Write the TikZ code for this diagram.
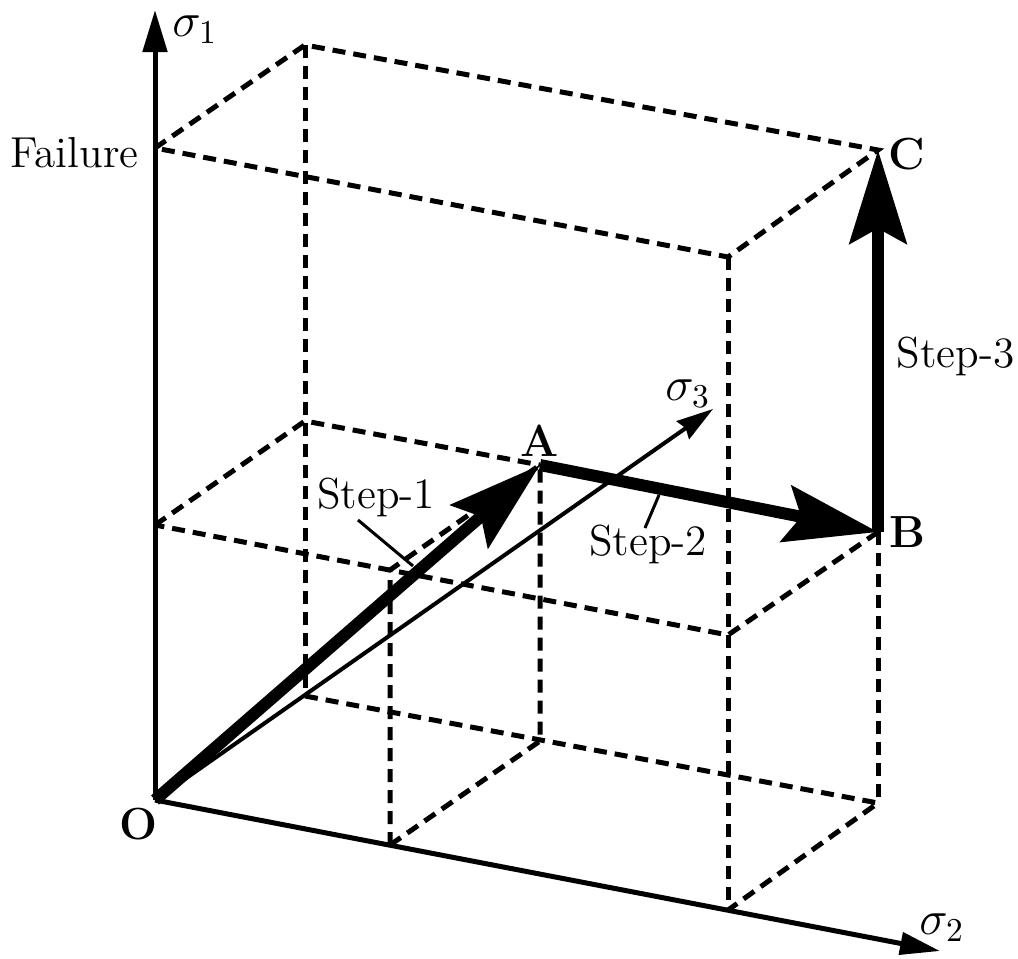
\documentclass[tikz,border=0pt]{standalone}
\usetikzlibrary{arrows.meta}
\begin{document}
\begin{tikzpicture}[x=0.3pt,y=-0.3pt,
  boxline/.style={line width=1.5pt,dash pattern=on 3.9pt off 2.4pt},
  axisline/.style={line width=1.5pt},
  stepline/.style={line width=3.6pt,-{Stealth[length=28pt,width=17pt,inset=4.5pt]}},
  pointer/.style={line width=0.9pt},
  lbl/.style={font=\fontsize{13}{15.6}\selectfont,inner sep=0pt},
  slbl/.style={font=\fontsize{14.4}{17}\selectfont,inner sep=0pt},
  blbl/.style={font=\fontsize{13.5}{16}\selectfont\bfseries,inner sep=0pt}]
\useasboundingbox (0,0) rectangle (1018,958);
% points
\coordinate (O)  at (155,800);
\coordinate (T1) at (155,148);
\coordinate (T2) at (305,45);
\coordinate (T3) at (878,150);
\coordinate (T4) at (728,257);
\coordinate (M1) at (155,525);
\coordinate (M2) at (305,421);
\coordinate (A)  at (540,465);
\coordinate (B)  at (878,532);
\coordinate (M4) at (728,635);
\coordinate (P2) at (305,696);
\coordinate (Q)  at (540,741);
\coordinate (R)  at (878,803);
\coordinate (F)  at (728,910);
\coordinate (S)  at (390,845);
\coordinate (S2) at (390,570);
\coordinate (Z1) at (155,10);
\coordinate (Z2) at (940,951);
\coordinate (Z3) at (713,409);
% dashed box
\draw[boxline] (T1) -- (T2) -- (T3) -- (T4) -- (T1);
\draw[boxline] (T2) -- (P2);
\draw[boxline] (T4) -- (F);
\draw[boxline] (B) -- (R);
\draw[boxline] (M1) -- (M2) -- (A);
\draw[boxline] (B) -- (M4) -- (M1);
\draw[boxline] (P2) -- (R) -- (F);
\draw[boxline] (S) -- (Q) -- (A);
\draw[boxline] (S) -- (S2) -- (A);
% axes
\draw[axisline,-{Triangle[length=12.6pt,width=7.2pt]}] (O) -- (Z1);
\draw[axisline,-{Triangle[length=12pt,width=6.6pt]}] (O) -- (Z2);
\draw[line width=1.2pt,-{Stealth[length=11pt,width=6.5pt,inset=1pt]}] (O) -- (Z3);
% steps
\draw[stepline] (O) -- (A);
\draw[stepline] (A) -- (B);
\draw[stepline] (B) -- (T3);
% labels
\node[slbl] (ls1) at (195,30) {$\sigma_1$};
\node[slbl] (ls2) at (942,928) {$\sigma_2$};
\node[slbl] (ls3) at (688,394) {$\sigma_3$};
\node[lbl,anchor=base east] (lfail) at (139,167) {Failure};
\node[blbl] (lC) at (907,154) {C};
\node[blbl] (lA) at (540,441) {A};
\node[blbl] (lB) at (907,532) {B};
\node[blbl] (lO) at (139,824) {O};
\node[lbl,anchor=base west] (lst3) at (896,367) {Step-3};
\node[lbl,anchor=base] (lst1) at (376,508) {Step-1};
\node[lbl,anchor=base] (lst2) at (648,555) {Step-2};
% pointers
\coordinate (p1a) at (358,520);
\coordinate (p1b) at (413,566);
\coordinate (p2a) at (645,528);
\coordinate (p2b) at (659,495);
\draw[pointer] (p1a) -- (p1b);
\draw[pointer] (p2a) -- (p2b);
\end{tikzpicture}
\end{document}
